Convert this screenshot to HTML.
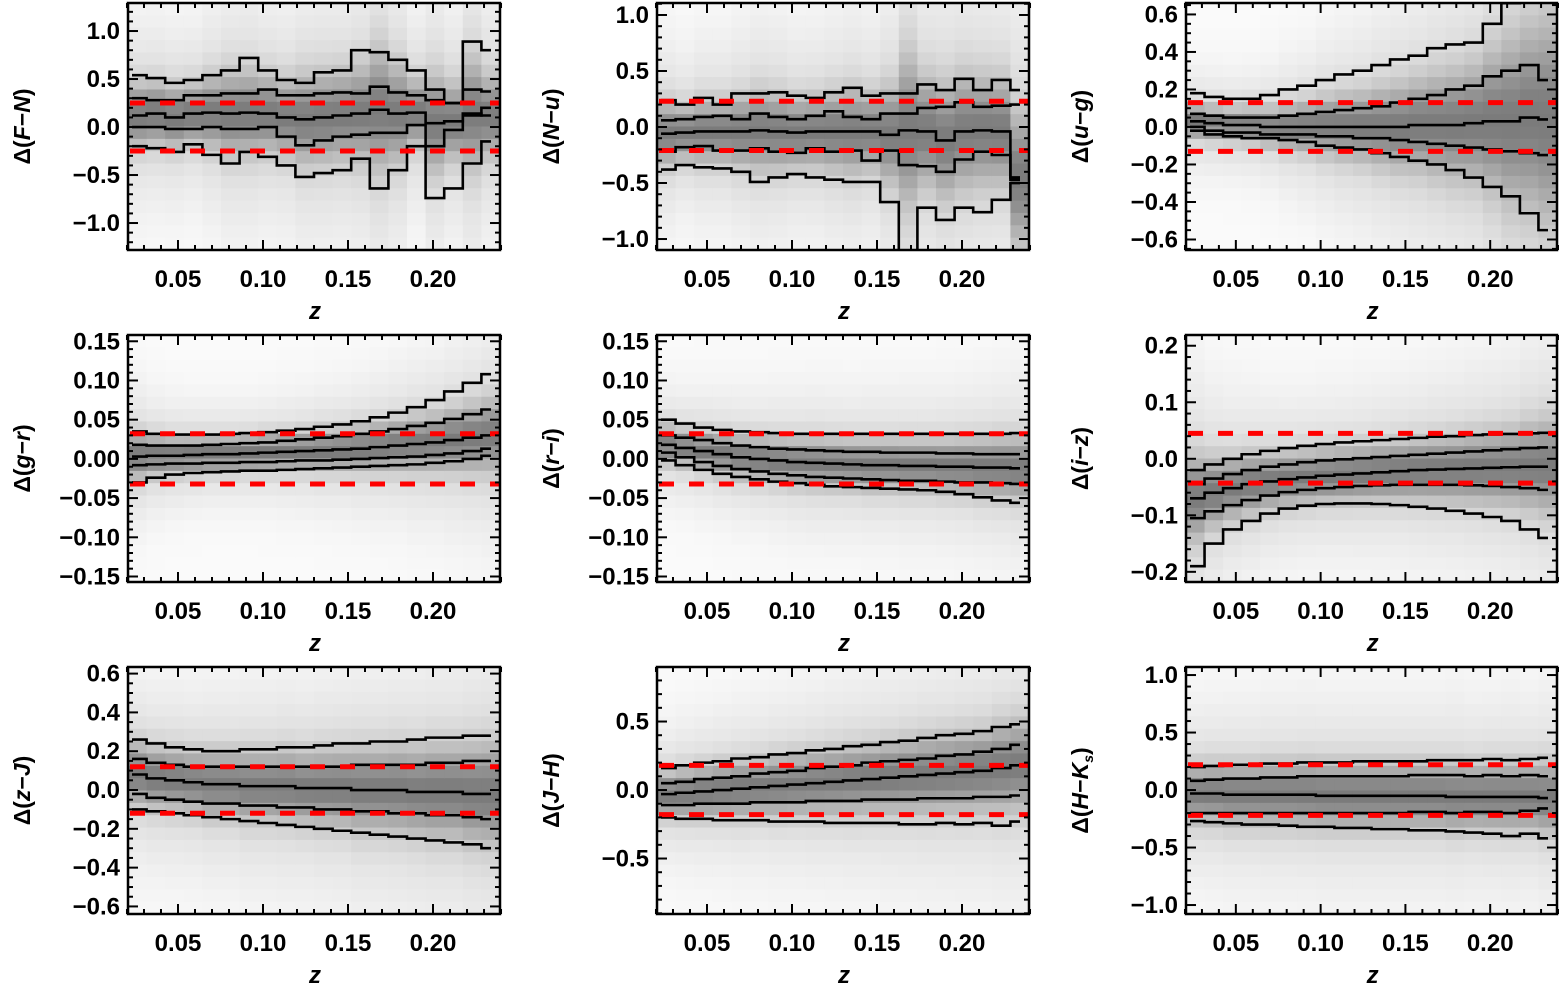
<!DOCTYPE html>
<html><head><meta charset="utf-8"><style>
body{margin:0;background:#fff}
svg text{font-family:"Liberation Sans",sans-serif;font-weight:bold;fill:#000}
</style></head><body>
<svg id="fig" width="1559" height="983" viewBox="0 0 1559 983" xmlns="http://www.w3.org/2000/svg"></svg>
<script>
const zEdgeMin = 0.0206, zEdgeMax = 0.2394, nBins = 20;
const xTickVals = [0.05,0.10,0.15,0.20];
const xTickLabels = ["0.05","0.10","0.15","0.20"];

const FN_hi  = [0.54,0.51,0.46,0.49,0.54,0.59,0.72,0.59,0.49,0.46,0.57,0.59,0.80,0.78,0.70,0.59,0.39,0.25,0.89,0.80];
const FN_p84 = [0.30,0.28,0.28,0.33,0.33,0.35,0.35,0.39,0.33,0.33,0.35,0.36,0.35,0.42,0.36,0.33,0.28,0.25,0.39,0.37];
const FN_med = [0.12,0.14,0.10,0.14,0.15,0.14,0.15,0.14,0.10,0.08,0.10,0.12,0.14,0.18,0.14,0.15,0.04,0.06,0.14,0.12];
const FN_p16 = [0.00,0.00,-0.02,-0.02,0.00,-0.02,-0.02,0.00,-0.10,-0.19,-0.14,-0.10,-0.08,-0.06,-0.06,0.02,-0.20,-0.03,0.12,0.20];
const FN_lo  = [-0.20,-0.22,-0.26,-0.18,-0.29,-0.38,-0.26,-0.31,-0.40,-0.52,-0.48,-0.45,-0.33,-0.64,-0.45,-0.20,-0.74,-0.64,-0.38,-0.15];

const Nu_hi  = [0.24,0.20,0.26,0.20,0.30,0.30,0.31,0.28,0.26,0.31,0.35,0.28,0.30,0.30,0.38,0.33,0.43,0.33,0.42,0.33];
const Nu_p84 = [0.06,0.07,0.09,0.10,0.07,0.12,0.09,0.07,0.10,0.14,0.09,0.07,0.12,0.12,0.17,0.18,0.22,0.18,0.19,0.20];
const Nu_med = [-0.06,-0.05,-0.04,-0.04,-0.04,-0.03,-0.04,-0.05,-0.04,-0.04,-0.04,-0.04,-0.07,-0.03,-0.04,-0.12,-0.04,-0.03,-0.04,-0.45];
const Nu_p16 = [-0.22,-0.18,-0.17,-0.21,-0.21,-0.19,-0.22,-0.23,-0.19,-0.22,-0.21,-0.30,-0.21,-0.34,-0.35,-0.40,-0.29,-0.22,-0.25,-0.47];
const Nu_lo  = [-0.38,-0.34,-0.36,-0.37,-0.40,-0.49,-0.45,-0.42,-0.45,-0.47,-0.49,-0.49,-0.67,-1.20,-0.72,-0.83,-0.72,-0.76,-0.65,-0.50];

const ug_hi  = [0.18,0.16,0.15,0.15,0.17,0.20,0.22,0.25,0.28,0.30,0.33,0.36,0.38,0.42,0.44,0.45,0.55,0.66,0.68,0.70];
const ug_p84 = [0.07,0.06,0.05,0.05,0.05,0.06,0.07,0.08,0.09,0.10,0.11,0.13,0.15,0.17,0.20,0.22,0.27,0.30,0.33,0.25];
const ug_med = [0.03,0.02,0.01,0.01,0.00,0.00,0.00,0.00,0.00,0.00,0.00,0.00,0.01,0.01,0.01,0.02,0.03,0.03,0.05,0.04];
const ug_p16 = [0.00,-0.02,-0.03,-0.03,-0.04,-0.04,-0.04,-0.05,-0.05,-0.06,-0.06,-0.07,-0.08,-0.09,-0.10,-0.11,-0.12,-0.13,-0.14,-0.15];
const ug_lo  = [-0.02,-0.04,-0.05,-0.06,-0.06,-0.07,-0.08,-0.10,-0.11,-0.12,-0.14,-0.16,-0.18,-0.20,-0.23,-0.27,-0.32,-0.37,-0.46,-0.55];

const gr_hi  = [0.035,0.032,0.031,0.031,0.031,0.032,0.033,0.034,0.036,0.038,0.041,0.044,0.048,0.053,0.059,0.066,0.075,0.086,0.097,0.108];
const gr_p84 = [0.018,0.017,0.017,0.017,0.018,0.019,0.020,0.021,0.023,0.025,0.027,0.029,0.032,0.035,0.038,0.042,0.046,0.051,0.057,0.063];
const gr_med = [0.003,0.004,0.004,0.005,0.006,0.006,0.007,0.008,0.009,0.010,0.011,0.012,0.013,0.015,0.017,0.019,0.021,0.024,0.027,0.030];
const gr_p16 = [-0.008,-0.007,-0.006,-0.006,-0.005,-0.005,-0.004,-0.004,-0.003,-0.002,-0.002,-0.001,0.000,0.001,0.002,0.003,0.005,0.007,0.010,0.013];
const gr_lo  = [-0.030,-0.024,-0.020,-0.018,-0.017,-0.016,-0.015,-0.015,-0.014,-0.013,-0.012,-0.011,-0.010,-0.009,-0.008,-0.007,-0.005,-0.003,0.000,0.004];

const ri_hi  = [0.050,0.045,0.040,0.037,0.035,0.034,0.033,0.032,0.032,0.032,0.032,0.032,0.032,0.032,0.032,0.032,0.032,0.032,0.032,0.033];
const ri_p84 = [0.030,0.027,0.024,0.020,0.017,0.015,0.013,0.012,0.011,0.010,0.009,0.009,0.008,0.008,0.008,0.007,0.007,0.006,0.006,0.006];
const ri_med = [0.018,0.014,0.010,0.006,0.002,0.000,-0.002,-0.004,-0.005,-0.006,-0.007,-0.008,-0.008,-0.009,-0.009,-0.010,-0.010,-0.011,-0.011,-0.012];
const ri_p16 = [0.008,0.002,-0.004,-0.009,-0.013,-0.016,-0.019,-0.021,-0.023,-0.024,-0.025,-0.026,-0.027,-0.028,-0.028,-0.029,-0.030,-0.030,-0.031,-0.032];
const ri_lo  = [-0.002,-0.008,-0.014,-0.019,-0.023,-0.026,-0.029,-0.031,-0.033,-0.035,-0.036,-0.037,-0.038,-0.039,-0.040,-0.042,-0.045,-0.049,-0.053,-0.056];

const iz_hi  = [-0.020,-0.010,0.000,0.008,0.014,0.019,0.023,0.026,0.029,0.031,0.033,0.035,0.037,0.039,0.040,0.042,0.043,0.044,0.045,0.046];
const iz_p84 = [-0.045,-0.035,-0.027,-0.020,-0.014,-0.010,-0.006,-0.003,-0.001,0.001,0.003,0.005,0.007,0.009,0.011,0.013,0.015,0.017,0.019,0.020];
const iz_med = [-0.070,-0.060,-0.052,-0.045,-0.040,-0.036,-0.033,-0.030,-0.028,-0.026,-0.024,-0.022,-0.020,-0.019,-0.018,-0.017,-0.016,-0.015,-0.014,-0.014];
const iz_p16 = [-0.105,-0.093,-0.082,-0.073,-0.065,-0.059,-0.055,-0.052,-0.050,-0.048,-0.047,-0.046,-0.046,-0.046,-0.046,-0.047,-0.048,-0.050,-0.052,-0.055];
const iz_lo  = [-0.190,-0.150,-0.125,-0.110,-0.097,-0.088,-0.083,-0.080,-0.079,-0.079,-0.080,-0.082,-0.085,-0.088,-0.092,-0.097,-0.103,-0.110,-0.125,-0.140];

const zJ_hi  = [0.26,0.24,0.22,0.21,0.20,0.20,0.21,0.21,0.22,0.22,0.23,0.24,0.24,0.25,0.25,0.26,0.27,0.27,0.28,0.28];
const zJ_p84 = [0.16,0.14,0.13,0.12,0.12,0.12,0.12,0.12,0.12,0.12,0.12,0.12,0.13,0.13,0.13,0.13,0.14,0.14,0.15,0.15];
const zJ_med = [0.08,0.06,0.05,0.04,0.03,0.03,0.02,0.02,0.02,0.01,0.01,0.01,0.00,0.00,0.00,-0.01,-0.01,-0.01,-0.02,-0.02];
const zJ_p16 = [-0.02,-0.04,-0.05,-0.06,-0.07,-0.07,-0.08,-0.08,-0.09,-0.09,-0.10,-0.10,-0.11,-0.11,-0.12,-0.12,-0.13,-0.13,-0.14,-0.15];
const zJ_lo  = [-0.10,-0.11,-0.12,-0.13,-0.14,-0.15,-0.16,-0.17,-0.18,-0.19,-0.20,-0.21,-0.22,-0.23,-0.24,-0.25,-0.26,-0.27,-0.28,-0.30];

const JH_hi  = [0.16,0.18,0.20,0.21,0.23,0.24,0.26,0.27,0.29,0.30,0.32,0.33,0.35,0.36,0.38,0.40,0.41,0.43,0.46,0.48];
const JH_p84 = [0.05,0.06,0.08,0.09,0.10,0.12,0.13,0.14,0.16,0.17,0.18,0.20,0.21,0.22,0.23,0.25,0.26,0.28,0.30,0.33];
const JH_med = [-0.03,-0.02,-0.01,0.00,0.01,0.02,0.03,0.04,0.05,0.06,0.07,0.08,0.09,0.10,0.11,0.12,0.13,0.14,0.16,0.18];
const JH_p16 = [-0.11,-0.11,-0.10,-0.10,-0.10,-0.09,-0.09,-0.09,-0.08,-0.08,-0.08,-0.07,-0.07,-0.07,-0.06,-0.06,-0.06,-0.05,-0.05,-0.04];
const JH_lo  = [-0.20,-0.21,-0.21,-0.22,-0.22,-0.22,-0.23,-0.23,-0.23,-0.24,-0.24,-0.24,-0.24,-0.25,-0.25,-0.24,-0.25,-0.24,-0.26,-0.23];

const HK_hi  = [0.20,0.21,0.22,0.22,0.23,0.23,0.24,0.24,0.24,0.25,0.25,0.25,0.25,0.26,0.26,0.26,0.27,0.26,0.27,0.28];
const HK_p84 = [0.08,0.09,0.10,0.10,0.11,0.11,0.12,0.12,0.12,0.12,0.12,0.12,0.13,0.13,0.13,0.12,0.13,0.12,0.13,0.12];
const HK_med = [-0.03,-0.03,-0.04,-0.04,-0.04,-0.04,-0.04,-0.05,-0.05,-0.05,-0.05,-0.05,-0.05,-0.05,-0.06,-0.06,-0.06,-0.06,-0.06,-0.07];
const HK_p16 = [-0.20,-0.20,-0.20,-0.20,-0.20,-0.20,-0.20,-0.20,-0.20,-0.20,-0.20,-0.20,-0.19,-0.19,-0.20,-0.19,-0.19,-0.20,-0.18,-0.16];
const HK_lo  = [-0.27,-0.28,-0.29,-0.30,-0.30,-0.31,-0.32,-0.32,-0.33,-0.33,-0.34,-0.34,-0.35,-0.35,-0.36,-0.37,-0.38,-0.40,-0.38,-0.42];

const refLines = [[0.25,-0.25],[0.23,-0.21],[0.13,-0.13],[0.032,-0.032],[0.032,-0.032],[0.045,-0.043],[0.12,-0.12],[0.18,-0.18],[0.22,-0.22]];
const yTickVals = [[1,0.5,0,-0.5,-1],[1,0.5,0,-0.5,-1],[0.6,0.4,0.2,0,-0.2,-0.4,-0.6],[0.15,0.1,0.05,0,-0.05,-0.1,-0.15],[0.15,0.1,0.05,0,-0.05,-0.1,-0.15],[0.2,0.1,0,-0.1,-0.2],[0.6,0.4,0.2,0,-0.2,-0.4,-0.6],[0.5,0,-0.5],[1,0.5,0,-0.5,-1]];
const yTickLabels = [["1.0","0.5","0.0","−0.5","−1.0"],["1.0","0.5","0.0","−0.5","−1.0"],["0.6","0.4","0.2","0.0","−0.2","−0.4","−0.6"],["0.15","0.10","0.05","0.00","−0.05","−0.10","−0.15"],["0.15","0.10","0.05","0.00","−0.05","−0.10","−0.15"],["0.2","0.1","0.0","−0.1","−0.2"],["0.6","0.4","0.2","0.0","−0.2","−0.4","−0.6"],["0.5","0.0","−0.5"],["1.0","0.5","0.0","−0.5","−1.0"]];

const panels = [
 {key:"fn",a:"F",b:"N",series:[FN_lo,FN_p16,FN_med,FN_p84,FN_hi],ytop:1.292,ybot:-1.281,minor:0.1,col:0,row:0},
 {key:"nu",a:"N",b:"u",series:[Nu_lo,Nu_p16,Nu_med,Nu_p84,Nu_hi],ytop:1.107,ybot:-1.098,minor:0.1,col:1,row:0},
 {key:"ug",a:"u",b:"g",series:[ug_lo,ug_p16,ug_med,ug_p84,ug_hi],ytop:0.661,ybot:-0.656,minor:0.05,col:2,row:0},
 {key:"gr",a:"g",b:"r",series:[gr_lo,gr_p16,gr_med,gr_p84,gr_hi],ytop:0.158,ybot:-0.157,minor:0.01,col:0,row:1},
 {key:"ri",a:"r",b:"i",series:[ri_lo,ri_p16,ri_med,ri_p84,ri_hi],ytop:0.158,ybot:-0.157,minor:0.01,col:1,row:1},
 {key:"iz",a:"i",b:"z",series:[iz_lo,iz_p16,iz_med,iz_p84,iz_hi],ytop:0.219,ybot:-0.218,minor:0.02,col:2,row:1},
 {key:"zj",a:"z",b:"J",series:[zJ_lo,zJ_p16,zJ_med,zJ_p84,zJ_hi],ytop:0.634,ybot:-0.639,minor:0.05,col:0,row:2},
 {key:"jh",a:"J",b:"H",series:[JH_lo,JH_p16,JH_med,JH_p84,JH_hi],ytop:0.898,ybot:-0.905,minor:0.1,col:1,row:2},
 {key:"hk",a:"H",b:"K",sub:"s",series:[HK_lo,HK_p16,HK_med,HK_p84,HK_hi],ytop:1.07,ybot:-1.078,minor:0.1,col:2,row:2}
];
const colX = [[128,500],[657,1029],[1186,1557]];
const rowY = [[3,250],[335,582],[667,914]];

const NS = "http://www.w3.org/2000/svg";
const svg = document.getElementById("fig");
function mk(tag, attrs, parent){const e=document.createElementNS(NS,tag);for(const k in attrs)e.setAttribute(k,attrs[k]);(parent||svg).appendChild(e);return e;}

panels.forEach((p,pi)=>{
  const [x0,x1]=colX[p.col], [y0,y1]=rowY[p.row];
  const xs = z => x0 + (z-zEdgeMin)/(zEdgeMax-zEdgeMin)*(x1-x0);
  const ys = v => y0 + (p.ytop-v)/(p.ytop-p.ybot)*(y1-y0);
  const g = mk("g",{});
  
  
  const cp = mk("clipPath",{id:"clip"+pi},g);
  mk("rect",{x:x0,y:y0,width:x1-x0,height:y1-y0},cp);
  const plot = mk("g",{"clip-path":"url(#clip"+pi+")"},g);
  const bw=(zEdgeMax-zEdgeMin)/nBins, nRows=20, rh=(p.ytop-p.ybot)/nRows;
  const hm = mk("g",{},plot);
  
  
  for(let i=0;i<nBins;i++){
    const med=p.series[2][i];
    const s=Math.max((p.series[3][i]-p.series[1][i])/2, (p.series[4][i]-p.series[0][i])/4, 1e-4);
    for(let r=0;r<nRows;r++){
      const v=p.ytop-(r+0.5)*rh, d=(v-med)/s;
      const core=Math.exp(-0.5*d*d), tail=Math.exp(-0.5*(d/3.5)*(d/3.5));
      const gv=Math.round(250-95*Math.pow(core,0.8)-32*tail);
      const c=mk("rect",{x:xs(zEdgeMin+i*bw),y:ys(p.ytop-r*rh),width:(x1-x0)/nBins+0.6,height:(y1-y0)/nRows+0.6,fill:`rgb(${gv},${gv},${gv})`},hm);
      
      
    }
  }
  const names=["percentile-2.5-line","percentile-16-line","median-line","percentile-84-line","percentile-97.5-line"];
  p.series.forEach((arr,si)=>{
    let d="";
    for(let i=0;i<nBins;i++){
      const xa=xs(zEdgeMin+i*bw)+(i===0?4:0), xb=xs(zEdgeMin+(i+1)*bw)-(i===nBins-1?9:0), y=ys(arr[i]);
      d += (i===0?`M${xa},${y}`:`V${y}`)+`H${xb}`;
    }
    const path=mk("path",{d:d,fill:"none",stroke:"#000","stroke-width":2.6},plot);
    
    
  });
  refLines[pi].forEach((v,ri)=>{
    const l=mk("line",{x1:x0+2,x2:x1,y1:ys(v),y2:ys(v),stroke:"#ff0000","stroke-width":5,"stroke-dasharray":"15,15"},plot);
    
    
  });
  const fr=mk("rect",{x:x0,y:y0,width:x1-x0,height:y1-y0,fill:"none",stroke:"#000","stroke-width":2.5},g);
  
  
  for(let k=2;k<=24;k++){
    const z=k/100, x=xs(z), major=(k%5===0), L=major?10:5;
    mk("line",{x1:x,x2:x,y1:y1,y2:y1-L,stroke:"#000","stroke-width":2},g);
    mk("line",{x1:x,x2:x,y1:y0,y2:y0+L,stroke:"#000","stroke-width":2},g);
  }
  xTickVals.forEach((z,ti)=>{
    const t=mk("text",{x:xs(z),y:y1+37,"text-anchor":"middle","font-size":24},g);
    t.textContent=xTickLabels[ti];
    
    
  });
  const xt=mk("text",{x:xs(0.10)+52,y:y1+69,"text-anchor":"middle","font-size":24,"font-style":"italic","font-family":"Liberation Serif, serif"},g);
  xt.textContent="z";
  
  
  const mstart=Math.ceil(p.ybot/p.minor-1e-6), mend=Math.floor(p.ytop/p.minor+1e-6);
  const majorStep=yTickVals[pi][0]-yTickVals[pi][1];
  for(let k=mstart;k<=mend;k++){
    const v=k*p.minor, y=ys(v);
    const major=Math.abs(v/majorStep-Math.round(v/majorStep))<1e-6, L=major?10:5;
    mk("line",{x1:x0,x2:x0+L,y1:y,y2:y,stroke:"#000","stroke-width":2},g);
    mk("line",{x1:x1,x2:x1-L,y1:y,y2:y,stroke:"#000","stroke-width":2},g);
  }
  yTickVals[pi].forEach((v,ti)=>{
    const t=mk("text",{x:x0-8,y:ys(v)+8,"text-anchor":"end","font-size":24},g);
    t.textContent=yTickLabels[pi][ti];
    
    
  });
  const cy=(y0+y1)/2, tx=x0-98;
  const yt=mk("text",{x:tx,y:cy,"text-anchor":"middle","font-size":23,transform:`rotate(-90 ${tx} ${cy})`},g);
  
  
  const parts=[["Δ(",false],[p.a,true],["−",false],[p.b,true]];
  parts.forEach(([s,it])=>{const ts=mk("tspan",it?{"font-style":"italic"}:{},yt);ts.textContent=s;});
  if(p.sub){const ts=mk("tspan",{"font-size":14,"font-style":"italic",dy:5},yt);ts.textContent=p.sub;const tc=mk("tspan",{dy:-5},yt);tc.textContent=")";}
  else{const ts=mk("tspan",{},yt);ts.textContent=")";}
});
</script>
</body></html>
